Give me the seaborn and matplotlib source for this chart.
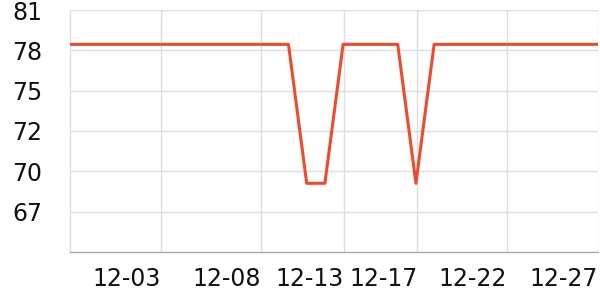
import matplotlib
matplotlib.use("Agg")
import matplotlib.pyplot as plt
import matplotlib.dates as mdates
import seaborn as sns
import pandas as pd

dates = ["2023-11-28", "2023-11-29", "2023-11-30", "2023-12-01", "2023-12-02",
         "2023-12-03", "2023-12-04", "2023-12-05", "2023-12-06", "2023-12-07",
         "2023-12-08", "2023-12-09", "2023-12-10", "2023-12-11", "2023-12-12",
         "2023-12-13", "2023-12-14", "2023-12-15", "2023-12-16", "2023-12-17",
         "2023-12-18", "2023-12-19", "2023-12-20", "2023-12-21", "2023-12-22",
         "2023-12-23", "2023-12-24", "2023-12-25", "2023-12-26", "2023-12-27"]
values = [78.7, 78.7, 78.7, 78.7, 78.7, 78.7, 78.7, 78.7, 78.7, 78.7,
          78.7, 78.7, 78.7, 69.4, 69.4, 78.7, 78.7, 78.7, 78.7, 69.4,
          78.7, 78.7, 78.7, 78.7, 78.7, 78.7, 78.7, 78.7, 78.7, 78.7]

x_tick_pos = ["2023-12-03 00:00", "2023-12-08 12:00", "2023-12-13 01:00",
              "2023-12-17 02:00", "2023-12-22 00:00", "2023-12-27 00:00"]
x_tick_labels = ["12-03", "12-08", "12-13", "12-17", "12-22", "12-27"]
y_tick_vals = [81.0, 78.3, 75.6, 72.9, 70.2, 67.5]
y_tick_labels = ["81", "78", "75", "72", "70", "67"]
y_min, y_max = 64.8, 81.0

df = pd.DataFrame({"date": pd.to_datetime(dates), "value": values})

sns.set_style("white")
plt.rcParams["font.family"] = ["DejaVu Sans"]

fig = plt.figure(figsize=(6, 3), dpi=100)
ax = fig.add_axes([70 / 600, 1 - 252 / 300, 528 / 600, 242 / 300])

sns.lineplot(data=df, x="date", y="value", ax=ax, color="#EE4B2B",
             linewidth=2.2, zorder=3)

ax.set_xlim(df["date"].iloc[0], df["date"].iloc[-1])
ax.set_ylim(y_min, y_max)

ax.set_xticks(pd.to_datetime(x_tick_pos))
ax.set_xticklabels(x_tick_labels, ha="right")
ax.set_yticks(y_tick_vals)
ax.set_yticklabels(y_tick_labels)

ax.grid(True, color="#dddddd", linewidth=1)
ax.set_axisbelow(True)
for s in ["top", "right"]:
    ax.spines[s].set_visible(False)
ax.spines["left"].set_color("#dddddd")
ax.spines["left"].set_linewidth(1)
ax.spines["bottom"].set_color("#aaaaaa")
ax.spines["bottom"].set_linewidth(1)

ax.tick_params(axis="y", length=0, pad=20, labelsize=17, labelcolor="#111111")
ax.tick_params(axis="x", length=3, color="#aaaaaa", pad=8, labelsize=17,
               labelcolor="#111111")
ax.set_xlabel("")
ax.set_ylabel("")

fig.savefig("out.png", dpi=100)
